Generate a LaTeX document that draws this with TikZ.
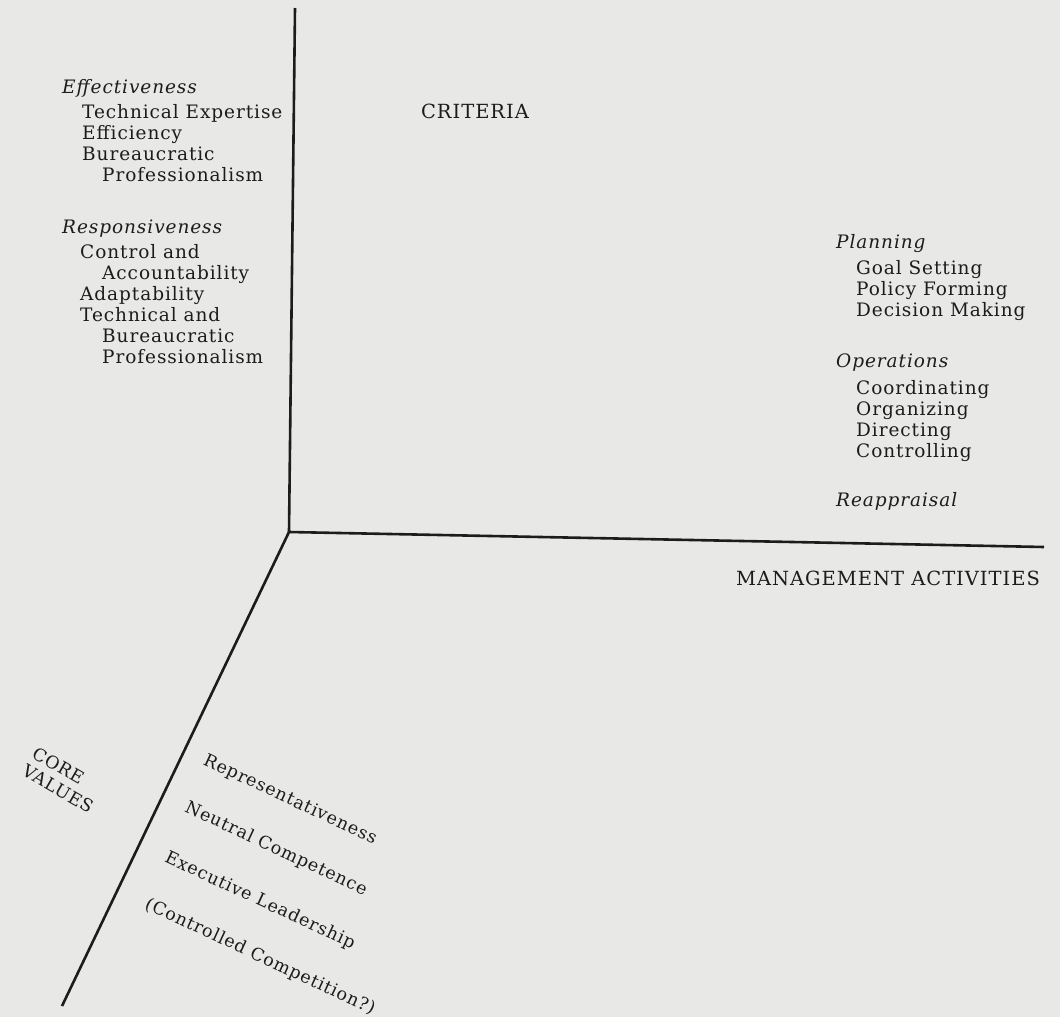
\documentclass[tikz,border=0pt]{standalone}
\usepackage{fontspec}
\setmainfont{DejaVu Serif}[LetterSpace=5]
\usetikzlibrary{positioning}
\definecolor{paper}{RGB}{232,232,230}
\definecolor{ink}{RGB}{28,28,28}

\begin{document}
\begin{tikzpicture}[x=1pt,y=-1pt,
  every node/.style={text=ink, inner sep=0pt},
  list/.style={align=left, anchor=north west, font=\fontsize{18.5}{21}\selectfont},
  axis/.style={draw=ink, line width=2.6pt},
  axlabel/.style={font=\fontsize{19.5}{21}\selectfont},
  corevalue/.style={rotate=-25, font=\fontsize{17.5}{20}\selectfont}]
\fill[paper] (0,0) rectangle (1060,1017);
\useasboundingbox (0,0) rectangle (1060,1017);

% the three axes
\coordinate (O) at (289,532);
\coordinate (top) at (295,8);
\coordinate (right) at (1044,547);
\coordinate (low) at (62,1006);
\draw[axis] (top) -- (O) -- (right);
\draw[axis] (O) -- (low);

% axis labels
\node[axlabel] (crit) at (475,111) {CRITERIA};
\node[axlabel] (mgmt) at (888,578) {MANAGEMENT ACTIVITIES};
\node[corevalue, rotate=-5, align=left] (core) at (63,780) {CORE\\VALUES};

% criteria
\node[list] (effect) at (62,79) {\textit{Effectiveness}\\[4pt]
  \hspace*{20pt}Technical Expertise\\
  \hspace*{20pt}Efficiency\\
  \hspace*{20pt}Bureaucratic\\
  \hspace*{40pt}Professionalism};
\node[list] (respon) at (62,220) {\textit{Responsiveness}\\[4pt]
  \hspace*{18pt}Control and\\
  \hspace*{40pt}Accountability\\
  \hspace*{18pt}Adaptability\\
  \hspace*{18pt}Technical and\\
  \hspace*{40pt}Bureaucratic\\
  \hspace*{40pt}Professionalism};

% management activities
\node[list] (plan) at (836,234) {\textit{Planning}\\[5pt]
  \hspace*{20pt}Goal Setting\\
  \hspace*{20pt}Policy Forming\\
  \hspace*{20pt}Decision Making};
\node[list] (oper) at (836,354) {\textit{Operations}\\[6pt]
  \hspace*{20pt}Coordinating\\
  \hspace*{20pt}Organizing\\
  \hspace*{20pt}Directing\\
  \hspace*{20pt}Controlling};
\node[list] (reapp) at (836,492) {\textit{Reappraisal}};

% core values
\node[corevalue] (repr) at (290,800) {Representativeness};
\node[corevalue] (neut) at (276,849) {Neutral Competence};
\node[corevalue] (exec) at (260,901) {Executive Leadership};
\node[corevalue] (comp) at (260,957) {(Controlled Competition?)};
\end{tikzpicture}
\end{document}
